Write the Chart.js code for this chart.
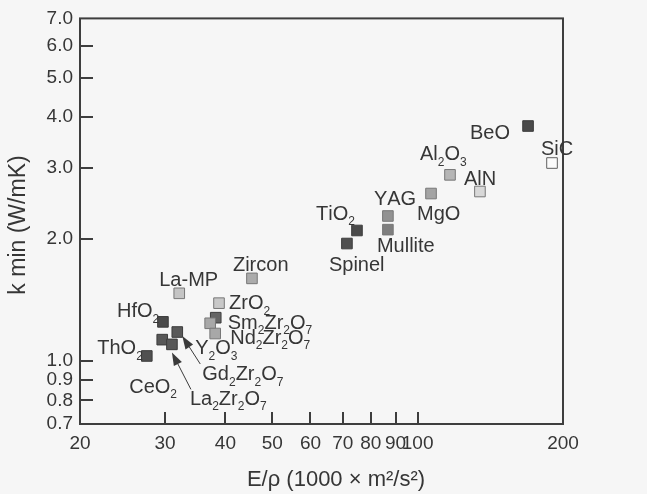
<!DOCTYPE html>
<html>
<head>
<meta charset="utf-8">
<script src="https://cdn.jsdelivr.net/npm/chart.js@4.4.1/dist/chart.umd.min.js"></script>
<style>
  html, body { margin: 0; padding: 0; background: #f6f6f6; }
  #wrap { width: 647px; height: 494px; position: relative; }
</style>
</head>
<body>
<div id="wrap"><canvas id="c" width="647" height="494"></canvas></div>
<script>
// Minimum thermal conductivity vs. specific modulus
const materials = ['ThO2','HfO2','CeO2','Gd2Zr2O7','La2Zr2O7','La-MP','Sm2Zr2O7','Y2O3','Nd2Zr2O7','ZrO2','Zircon','Spinel','TiO2','Mullite','YAG','MgO','Al2O3','AlN','BeO','SiC'];
const specificModulus = [27.5, 29.7, 29.6, 31.8, 31.0, 32.1, 38.2, 37.2, 38.1, 38.8, 45.4, 71.4, 74.9, 86.8, 86.8, 106.6, 116.7, 134.6, 169.3, 189.8];
const kMin = [1.03, 1.25, 1.13, 1.18, 1.10, 1.47, 1.28, 1.24, 1.17, 1.39, 1.60, 1.95, 2.10, 2.11, 2.28, 2.59, 2.88, 2.62, 3.80, 3.08];

const xTicks = [20, 30, 40, 50, 60, 70, 80, 90, 100, 200];
const yTicks = [0.7, 0.8, 0.9, 1.0, 2.0, 3.0, 4.0, 5.0, 6.0, 7.0];

const xTitle = 'E/\u03c1 (1000 \u00d7 m\u00b2/s\u00b2)';
const yTitle = 'k min (W/mK)';

// Marker shading per material
const fills = {
  'ThO2': '#505050', 'HfO2': '#4a4a4a', 'CeO2': '#575757', 'Gd2Zr2O7': '#595959',
  'La2Zr2O7': '#585858', 'La-MP': '#c4c4c4', 'Sm2Zr2O7': '#656565', 'Y2O3': '#a8a8a8',
  'Nd2Zr2O7': '#a8a8a8', 'ZrO2': '#c8c8c8', 'Zircon': '#ababab', 'Spinel': '#505050',
  'TiO2': '#4a4a4a', 'Mullite': '#7e7e7e', 'YAG': '#929292', 'MgO': '#a4a4a4',
  'Al2O3': '#b5b5b5', 'AlN': '#d8d8d8', 'BeO': '#4a4a4a', 'SiC': '#fbfbfb'
};
function edgeFor(hex) {
  const v = parseInt(hex.slice(1, 3), 16);
  return v < 0x70 ? '#3c3c3c' : (v > 0xe0 ? '#606060' : '#777777');
}

// Label placement: [align, dx, dy] relative to the marker centre
const labelPlace = {
  'BeO': ['right', -18, 6], 'SiC': ['center', 5, -15], 'Al2O3': ['left', -30, -22],
  'AlN': ['left', -16, -14], 'YAG': ['left', -14, -18], 'MgO': ['left', -14, 19],
  'TiO2': ['left', -41, -18], 'Mullite': ['left', -11, 15], 'Spinel': ['left', -18, 20],
  'Zircon': ['left', -19, -15], 'La-MP': ['left', -20, -15], 'ZrO2': ['left', 10, -1],
  'HfO2': ['left', -46, -12], 'Sm2Zr2O7': ['left', 12, 4], 'Nd2Zr2O7': ['left', 15, 3],
  'ThO2': ['right', -4, -9], 'Y2O3': ['left', -15, 24], 'Gd2Zr2O7': ['left', 25, 41],
  'CeO2': ['left', -33, 46], 'La2Zr2O7': ['left', 18, 53]
};
// Leader arrows: [fromDx, fromDy, toDx, toDy] relative to the marker centre
const arrows = {
  'Gd2Zr2O7': [23, 32, 5, 4],
  'La2Zr2O7': [19, 45, 0, 8]
};

const FONT = '"Liberation Sans", Arial, Helvetica, sans-serif';
const TEXT = '#363636';
const LABEL_PX = 20, SUB_PX = 12;

function formulaWidth(ctx, s) {
  let w = 0;
  for (const ch of s) {
    ctx.font = (/[0-9]/.test(ch) ? SUB_PX : LABEL_PX) + 'px ' + FONT;
    w += ctx.measureText(ch).width;
  }
  return w;
}
function drawFormula(ctx, s, x, cy) {
  const base = cy + LABEL_PX * 0.36;
  for (const ch of s) {
    const sub = /[0-9]/.test(ch);
    ctx.font = (sub ? SUB_PX : LABEL_PX) + 'px ' + FONT;
    ctx.fillText(ch, x, sub ? base + 5.5 : base);
    x += ctx.measureText(ch).width;
  }
}

const decorations = {
  id: 'decorations',
  afterDraw(chart) {
    const ctx = chart.ctx;
    const xs = chart.scales.x, ys = chart.scales.y;
    const a = chart.chartArea;
    ctx.save();
    // frame
    ctx.strokeStyle = '#3e3e3e';
    ctx.lineWidth = 2;
    ctx.strokeRect(a.left, a.top, a.right - a.left, a.bottom - a.top);
    // inward tick marks
    ctx.lineWidth = 2;
    ctx.beginPath();
    xTicks.slice(1, -1).forEach(v => {
      const px = Math.round(xs.getPixelForValue(v));
      ctx.moveTo(px, a.bottom);
      ctx.lineTo(px, a.bottom - 12);
    });
    yTicks.slice(1, -1).forEach(v => {
      const py = Math.round(ys.getPixelForValue(v));
      ctx.moveTo(a.left, py);
      ctx.lineTo(a.left + 13, py);
    });
    ctx.stroke();

    // point labels
    const meta = chart.getDatasetMeta(0);
    ctx.fillStyle = TEXT;
    ctx.textAlign = 'left';
    ctx.textBaseline = 'alphabetic';
    materials.forEach((name, i) => {
      const el = meta.data[i];
      const [align, dx, dy] = labelPlace[name];
      const w = formulaWidth(ctx, name);
      let x = el.x + dx;
      if (align === 'right') x -= w;
      if (align === 'center') x -= w / 2;
      drawFormula(ctx, name, x, el.y + dy);
    });

    // leader arrows
    ctx.strokeStyle = '#3a3a3a';
    ctx.fillStyle = '#3a3a3a';
    ctx.lineWidth = 1;
    Object.keys(arrows).forEach(name => {
      const el = meta.data[materials.indexOf(name)];
      const [fx, fy, tx, ty] = arrows[name];
      const x1 = el.x + fx, y1 = el.y + fy, x2 = el.x + tx, y2 = el.y + ty;
      const ang = Math.atan2(y2 - y1, x2 - x1);
      const hl = 13, hw = 4.5;
      const bx = x2 - hl * Math.cos(ang), by = y2 - hl * Math.sin(ang);
      ctx.beginPath();
      ctx.moveTo(x1, y1);
      ctx.lineTo(bx, by);
      ctx.stroke();
      ctx.beginPath();
      ctx.moveTo(x2, y2);
      ctx.lineTo(bx + hw * Math.sin(ang), by - hw * Math.cos(ang));
      ctx.lineTo(bx - hw * Math.sin(ang), by + hw * Math.cos(ang));
      ctx.closePath();
      ctx.fill();
    });

    // axis titles
    ctx.fillStyle = TEXT;
    ctx.textAlign = 'center';
    ctx.textBaseline = 'middle';
    ctx.font = '22px ' + FONT;
    ctx.fillText(xTitle, 336, 480);
    ctx.translate(19, 225);
    ctx.rotate(-Math.PI / 2);
    ctx.font = '23px ' + FONT;
    ctx.fillText(yTitle, 0, 0);
    ctx.restore();
  }
};

new Chart(document.getElementById('c'), {
  type: 'scatter',
  data: {
    datasets: [{
      data: materials.map((m, i) => ({ x: specificModulus[i], y: kMin[i] })),
      pointStyle: 'rect',
      pointRadius: 7.5,
      pointHoverRadius: 7.5,
      backgroundColor: materials.map(m => fills[m]),
      borderColor: materials.map(m => edgeFor(fills[m])),
      borderWidth: 1
    }]
  },
  options: {
    responsive: false,
    animation: false,
    events: [],
    layout: { padding: { left: 0, top: 17, right: 84, bottom: 0 } },
    plugins: { legend: { display: false }, tooltip: { enabled: false } },
    scales: {
      x: {
        type: 'logarithmic',
        min: 20, max: 200,
        afterBuildTicks: s => { s.ticks = xTicks.map(v => ({ value: v })); },
        afterFit: s => { s.height = 70; },
        grid: { display: false, drawTicks: false },
        border: { display: false },
        ticks: {
          autoSkip: false, maxRotation: 0, padding: 8, color: TEXT,
          font: { family: FONT, size: 19 },
          callback: v => String(v)
        }
      },
      y: {
        type: 'logarithmic',
        min: 0.7, max: 7.0,
        afterBuildTicks: s => { s.ticks = yTicks.map(v => ({ value: v })); },
        afterFit: s => { s.width = 80; },
        grid: { display: false, drawTicks: false },
        border: { display: false },
        ticks: {
          autoSkip: false, padding: 7, color: TEXT,
          font: { family: FONT, size: 19 },
          callback: v => Number(v).toFixed(1)
        }
      }
    }
  },
  plugins: [decorations]
});
</script>
</body>
</html>
